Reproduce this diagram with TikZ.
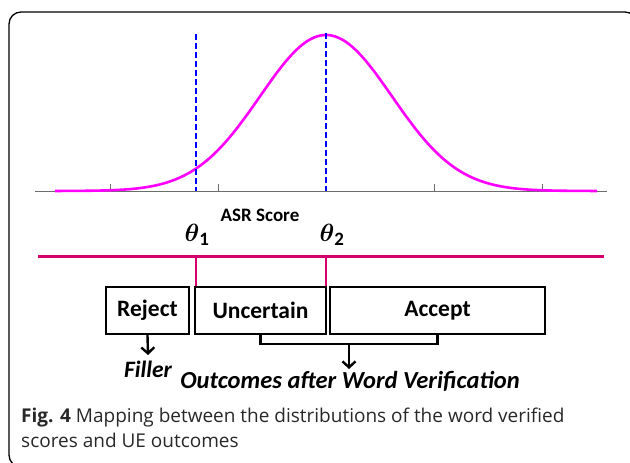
\documentclass[tikz,border=0pt]{standalone}
\usepackage{amsmath}
\usepackage{fontspec}
\setmainfont{Carlito}
\newfontfamily\capfont{Open Sans}
\usetikzlibrary{arrows.meta,calc}
\definecolor{crim}{RGB}{214,0,108}
\definecolor{mag}{RGB}{255,0,255}
\definecolor{capgray}{RGB}{40,40,40}
\tikzset{
  outbox/.style={draw=black,line width=2.4pt,inner sep=0pt,minimum height=47pt,font=\bfseries\fontsize{23.5}{26}\selectfont},
  conn/.style={line width=2.4pt,black},
  arr/.style={conn,-{Straight Barb[length=6pt,width=13pt,line width=2.4pt]}},
  thr/.style={blue,line width=2pt,dash pattern=on 6pt off 3pt},
  captext/.style={anchor=base west,inner sep=0pt,font=\capfont\fontsize{19}{22}\selectfont,text=capgray},
}
\begin{document}
\begin{tikzpicture}[x=1pt,y=-1pt]
\useasboundingbox (0,0) rectangle (630,463);
% frame
\draw[line width=1.3pt,rounded corners=12pt] (637,467) -- (9,467) -- (9,12) -- (637,12) -- cycle;
% axis
\draw[gray!85!black,line width=1pt] (35,191) -- (607,191);
\foreach \t in {110,218,434,542} \draw[gray!85!black,line width=0.9pt] (\t,191) -- (\t,184);
% gaussian
\draw[mag,line width=2.6pt,domain=55:597,samples=140,smooth] plot (\x,{191-156*exp(-((\x-326)/66)^2/2)});
% thresholds
\draw[thr] (196,34) -- (196,191);
\draw[thr] (326,33) -- (326,191);
\node[font=\bfseries\fontsize{19}{21}\selectfont] (asr) at (260,215) {ASR Score};
\node (t1) at (197,235) {\fontsize{27}{30}\selectfont$\boldsymbol{\theta}_{\mathbf{1}}$};
\node (t2) at (332,235) {\fontsize{27}{30}\selectfont$\boldsymbol{\theta}_{\mathbf{2}}$};
% score line
\coordinate (la) at (38,256);
\coordinate (lb) at (604,256);
\draw[crim,line width=3pt] (la) -- (lb);
\coordinate (c1) at (196,256);
\coordinate (c2) at (326,256);
\draw[crim,line width=2pt] (c1) -- ++(0,30);
\draw[crim,line width=2pt] (c2) -- ++(0,30);
% boxes
\node[outbox,minimum width=83pt] (rej) at (147.5,310.5) {Reject};
\node[outbox,minimum width=131pt] (unc) at (260.5,310.5) {Uncertain};
\node[outbox,minimum width=215pt] (acc) at (437.5,310.5) {Accept};
% reject arrow
\node[font=\bfseries\itshape\fontsize{23.5}{26}\selectfont] (fil) at (148,369) {Filler};
\draw[arr] (rej.south) -- (148,355);
% bracket
\coordinate (bl) at (unc.south |- 0,344);
\coordinate (br) at (acc.south |- 0,344);
\draw[conn] (unc.south) -- (bl) -- (br) -- (acc.south);
\node[font=\bfseries\itshape\fontsize{24.5}{28}\selectfont] (out) at (350,381) {Outcomes after Word Verification};
\draw[arr] ($(bl)!0.5!(br)$) -- ++(0,25);
% caption
\node[captext] (cap1) at (21,422) {\textbf{Fig. 4} Mapping between the distributions of the word verified};
\node[captext] (cap2) at (21,447) {scores and UE outcomes};
\end{tikzpicture}
\end{document}
